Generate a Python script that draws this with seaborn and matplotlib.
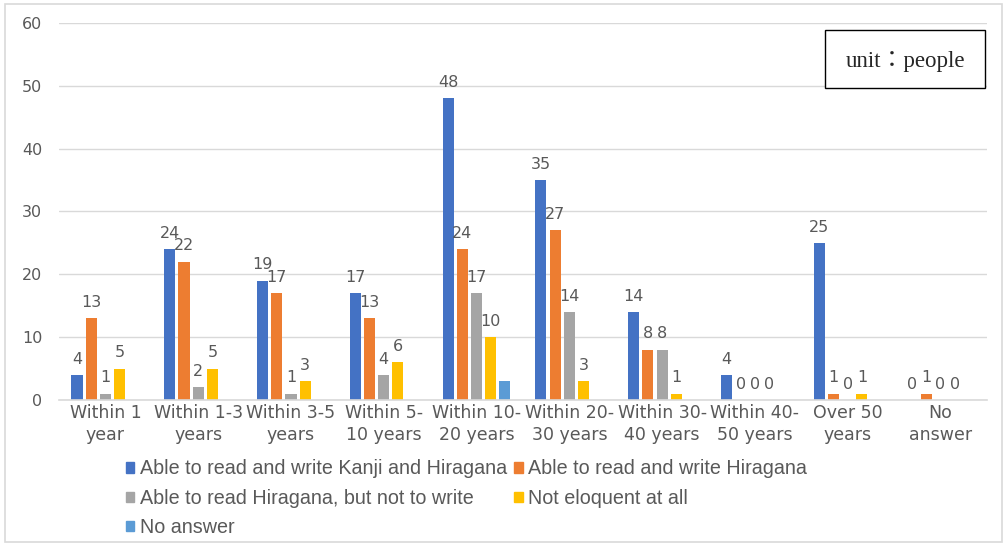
import pandas as pd
import matplotlib.pyplot as plt
import matplotlib.patches as mpatches
import seaborn as sns

# categories on the x axis
periods = ["Within 1 year", "Within 1-3 years", "Within 3-5 years", "Within 5-10 years",
           "Within 10-20 years", "Within 20-30 years", "Within 30-40 years",
           "Within 40-50 years", "Over 50 years", "No answer"]
tick_labels = ["Within 1\nyear", "Within 1-3\nyears", "Within 3-5\nyears", "Within 5-\n10 years",
               "Within 10-\n20 years", "Within 20-\n30 years", "Within 30-\n40 years",
               "Within 40-\n50 years", "Over 50\nyears", "No\nanswer"]

series_names = ["Able to read and write Kanji and Hiragana",
                "Able to read and write Hiragana",
                "Able to read Hiragana, but not to write",
                "Not eloquent at all",
                "No answer"]

kanji_hiragana = [4, 24, 19, 17, 48, 35, 14, 4, 25, 0]
hiragana = [13, 22, 17, 13, 24, 27, 8, 0, 1, 1]
read_only = [1, 2, 1, 4, 17, 14, 8, 0, 0, 0]
not_eloquent = [5, 5, 3, 6, 10, 3, 1, 0, 1, 0]
no_answer = [0, 0, 0, 0, 3, 0, 0, 0, 0, 0]

colors = ["#4472C4", "#ED7D31", "#A5A5A5", "#FFC000", "#5B9BD5"]

rows = []
for name, vals in zip(series_names, [kanji_hiragana, hiragana, read_only, not_eloquent, no_answer]):
    for p, v in zip(periods, vals):
        rows.append({"period": p, "series": name, "people": v})
df = pd.DataFrame(rows)

sns.set_style("white")
plt.rcParams['font.family'] = ['DejaVu Sans']

fig = plt.figure(figsize=(10.07, 5.46), dpi=100)
ax = fig.add_axes([0.0586, 0.2674, 0.9214, 0.6906])

sns.barplot(data=df, x="period", y="people", hue="series", order=periods,
            hue_order=series_names, palette=colors, width=0.765, gap=0.22,
            saturation=1, linewidth=0, ax=ax, legend=False)

text_grey = "#595959"
for c in ax.containers[:4]:
    ax.bar_label(c, padding=6, fontsize=11.5, color=text_grey)

ax.set_ylim(0, 60)
ax.set_yticks(range(0, 61, 10))
ax.set_xlim(-0.5, len(periods) - 0.5)
ax.set_xticks(range(len(periods)))
ax.set_xticklabels(tick_labels, fontsize=12.5, color=text_grey, linespacing=1.3)
ax.tick_params(axis="y", labelsize=11.5, colors=text_grey, length=0, pad=12)
ax.tick_params(axis="x", length=0, pad=3)
ax.set_xlabel("")
ax.set_ylabel("")
ax.yaxis.grid(True, color="#D9D9D9", linewidth=1)
ax.set_axisbelow(True)
for s in ["left", "right", "top"]:
    ax.spines[s].set_visible(False)
ax.spines["bottom"].set_color("#D9D9D9")
ax.spines["bottom"].set_linewidth(1.2)

# legend filled row by row, two columns
handles = [mpatches.Patch(color=col, label=n) for col, n in zip(colors, series_names)]
order = [0, 2, 4, 1, 3]
fig.legend([handles[i] for i in order], [series_names[i] for i in order],
           ncol=2, loc="upper left", bbox_to_anchor=(0.1075, 0.191),
           frameon=False, handlelength=0.43, handleheight=0.43, handletextpad=0.3,
           columnspacing=0.33, labelspacing=0.52,
           prop={"family": ["Liberation Sans"], "size": 14.2}, labelcolor=text_grey)

# unit box
fig.patches.append(mpatches.Rectangle((0.8193, 0.8388), 0.1589, 0.1062, transform=fig.transFigure,
                                      facecolor="white", edgecolor="black", linewidth=1, zorder=5))
fig.text(0.8987, 0.887, "unit：people", ha="center", va="center", fontsize=16.5, zorder=6,
         family=["Liberation Serif", "Noto Sans CJK JP"])

# outer frame
fig.patches.append(mpatches.Rectangle((0.005, 0.008), 0.99, 0.984, transform=fig.transFigure,
                                      fill=False, edgecolor="#D9D9D9", linewidth=1.2))

fig.savefig("out.png", dpi=100)
